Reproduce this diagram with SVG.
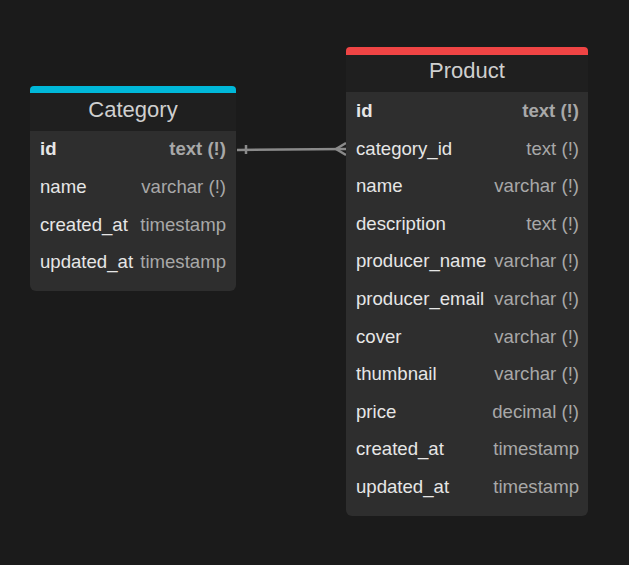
<svg xmlns="http://www.w3.org/2000/svg" width="629" height="565" viewBox="0 0 629 565">
<style>
.bg{fill:#1b1b1b}
.body{fill:#2e2e2e}
.head{fill:#1f1f1f}
.title{font-family:"Liberation Sans",Arial,sans-serif;font-size:22px;fill:#cfcfcf;text-anchor:middle}
.f{font-family:"Liberation Sans",Arial,sans-serif;font-size:18.6px;fill:#e6e6e6}
.t{font-family:"Liberation Sans",Arial,sans-serif;font-size:18.6px;fill:#a8a8a8;text-anchor:end}
.k{font-weight:bold}
.conn{stroke:#8a8a8a;stroke-width:2.5;fill:none}
</style>
<rect class="bg" x="0" y="0" width="629" height="565"/>
<g id="connectors">
<path class="conn" d="M237 150 L346 149"/>
<path class="conn" d="M246 145 L246 154"/>
<path class="conn" d="M346 143 L336 149 L346 155"/>
</g>
<g id="Category">
<rect class="body" x="30" y="86" width="206" height="205" rx="6"/>
<rect x="30" y="86" width="206" height="14" rx="4" fill="#00b8d9"/>
<rect class="head" x="30" y="93" width="206" height="38"/>
<text class="title" x="133" y="117">Category</text>
<text class="f k" x="40" y="155">id</text><text class="t k" x="226" y="155">text (!)</text>
<text class="f" x="40" y="193">name</text><text class="t" x="226" y="193">varchar (!)</text>
<text class="f" x="40" y="231">created_at</text><text class="t" x="226" y="231">timestamp</text>
<text class="f" x="40" y="268">updated_at</text><text class="t" x="226" y="268">timestamp</text>
</g>
<g id="Product">
<rect class="body" x="346" y="47" width="242" height="469" rx="6"/>
<rect x="346" y="47" width="242" height="14" rx="4" fill="#ef4444"/>
<rect class="head" x="346" y="55" width="242" height="37"/>
<text class="title" x="467" y="78">Product</text>
<text class="f k" x="356" y="117">id</text><text class="t k" x="579" y="117">text (!)</text>
<text class="f" x="356" y="155">category_id</text><text class="t" x="579" y="155">text (!)</text>
<text class="f" x="356" y="192">name</text><text class="t" x="579" y="192">varchar (!)</text>
<text class="f" x="356" y="230">description</text><text class="t" x="579" y="230">text (!)</text>
<text class="f" x="356" y="267">producer_name</text><text class="t" x="579" y="267">varchar (!)</text>
<text class="f" x="356" y="305">producer_email</text><text class="t" x="579" y="305">varchar (!)</text>
<text class="f" x="356" y="343">cover</text><text class="t" x="579" y="343">varchar (!)</text>
<text class="f" x="356" y="380">thumbnail</text><text class="t" x="579" y="380">varchar (!)</text>
<text class="f" x="356" y="418">price</text><text class="t" x="579" y="418">decimal (!)</text>
<text class="f" x="356" y="455">created_at</text><text class="t" x="579" y="455">timestamp</text>
<text class="f" x="356" y="493">updated_at</text><text class="t" x="579" y="493">timestamp</text>
</g>
</svg>
